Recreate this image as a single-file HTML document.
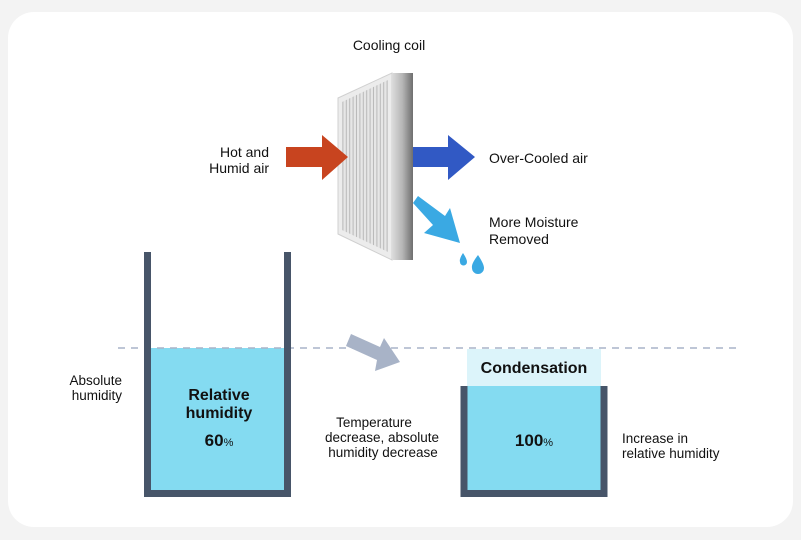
<!DOCTYPE html>
<html><head><meta charset="utf-8"><style>
html,body{margin:0;padding:0;background:#f3f3f3;}
svg{display:block;font-family:"Liberation Sans",sans-serif;}
</style></head><body>
<svg width="801" height="540" viewBox="0 0 801 540" xmlns="http://www.w3.org/2000/svg">
<defs>
<linearGradient id="side" x1="0" x2="1" y1="0" y2="0">
<stop offset="0" stop-color="#dcdcdc"/><stop offset="0.5" stop-color="#b5b5b5"/><stop offset="1" stop-color="#6e6e6e"/>
</linearGradient>
<pattern id="fins" width="3.4" height="10" patternUnits="userSpaceOnUse">
<rect width="3.4" height="10" fill="#e6e6e6"/><rect x="2.4" width="1" height="10" fill="#b9b9b9"/>
</pattern>
</defs>
<rect x="8" y="12" width="785" height="515" rx="26" fill="#ffffff"/>
<text x="389" y="50" font-size="14" text-anchor="middle" fill="#111">Cooling coil</text>
<!-- coil -->
<polygon points="338,98 392,73 392,260 338,234" fill="#ececec" stroke="#d0d0d0"/>
<polygon points="342,102 388,80 388,252 342,230" fill="url(#fins)"/>
<rect x="392" y="73" width="21" height="187" fill="url(#side)"/>
<!-- arrows -->
<polygon points="286,147 322,147 322,135 348,157 322,180 322,167 286,167" fill="#c8441f"/>
<polygon points="413,147 448,147 448,135 475,157 448,180 448,167 413,167" fill="#3159c4"/>
<polygon points="413,203 418,196 445,216 450,208 460,243 424,233 433,225" fill="#3aa9e3"/>
<path d="M463,253 q-4,6 -3,9 a3.5,3.5 0 0 0 7,0 q0,-3 -4,-9z" fill="#3aa9e3"/>
<path d="M478,255 q-7,9 -6,13 a6,6 0 0 0 12,0 q0,-4 -6,-13z" fill="#3aa9e3"/>
<text font-size="14" fill="#111" text-anchor="end"><tspan x="269" y="157">Hot and</tspan><tspan x="269" y="173">Humid air</tspan></text>
<text x="489" y="163" font-size="14" fill="#111">Over-Cooled air</text>
<text font-size="14" fill="#111"><tspan x="489" y="227">More Moisture</tspan><tspan x="489" y="244">Removed</tspan></text>
<!-- left beaker -->
<rect x="151" y="348" width="133" height="142" fill="#84dbf1"/>
<line x1="118" y1="348" x2="742" y2="348" stroke="#a9b4c8" stroke-width="1.5" stroke-dasharray="7,6"/>
<path d="M147.5,252 V493.5 H287.5 V252" fill="none" stroke="#475569" stroke-width="7"/>
<text font-size="13.5" fill="#111" text-anchor="end"><tspan x="122" y="385">Absolute</tspan><tspan x="122" y="400">humidity</tspan></text>
<text font-size="16" font-weight="bold" fill="#111" text-anchor="middle"><tspan x="219" y="400">Relative</tspan><tspan x="219" y="418">humidity</tspan></text>
<text x="219" y="446" font-size="17" font-weight="bold" fill="#111" text-anchor="middle">60<tspan font-size="11" font-weight="normal">%</tspan></text>
<!-- middle -->
<polygon points="346,346 351,334 380,347 384,338 400,362 375,371 377,360" fill="#a8b3c7"/>
<text font-size="13.5" fill="#111" text-anchor="middle"><tspan x="374" y="427">Temperature</tspan><tspan x="382" y="442">decrease, absolute</tspan><tspan x="383" y="457">humidity decrease</tspan></text>
<!-- right beaker -->
<rect x="467" y="349" width="134" height="37" fill="#dcf4fa"/>
<text x="534" y="373" font-size="16" font-weight="bold" fill="#111" text-anchor="middle">Condensation</text>
<rect x="467" y="386" width="134" height="104" fill="#84dbf1"/>
<path d="M464,386 V493.5 H604 V386" fill="none" stroke="#475569" stroke-width="7"/>
<text x="534" y="446" font-size="17" font-weight="bold" fill="#111" text-anchor="middle">100<tspan font-size="11" font-weight="normal">%</tspan></text>
<text font-size="13.5" fill="#111"><tspan x="622" y="443">Increase in</tspan><tspan x="622" y="458">relative humidity</tspan></text>
</svg>
</body></html>
